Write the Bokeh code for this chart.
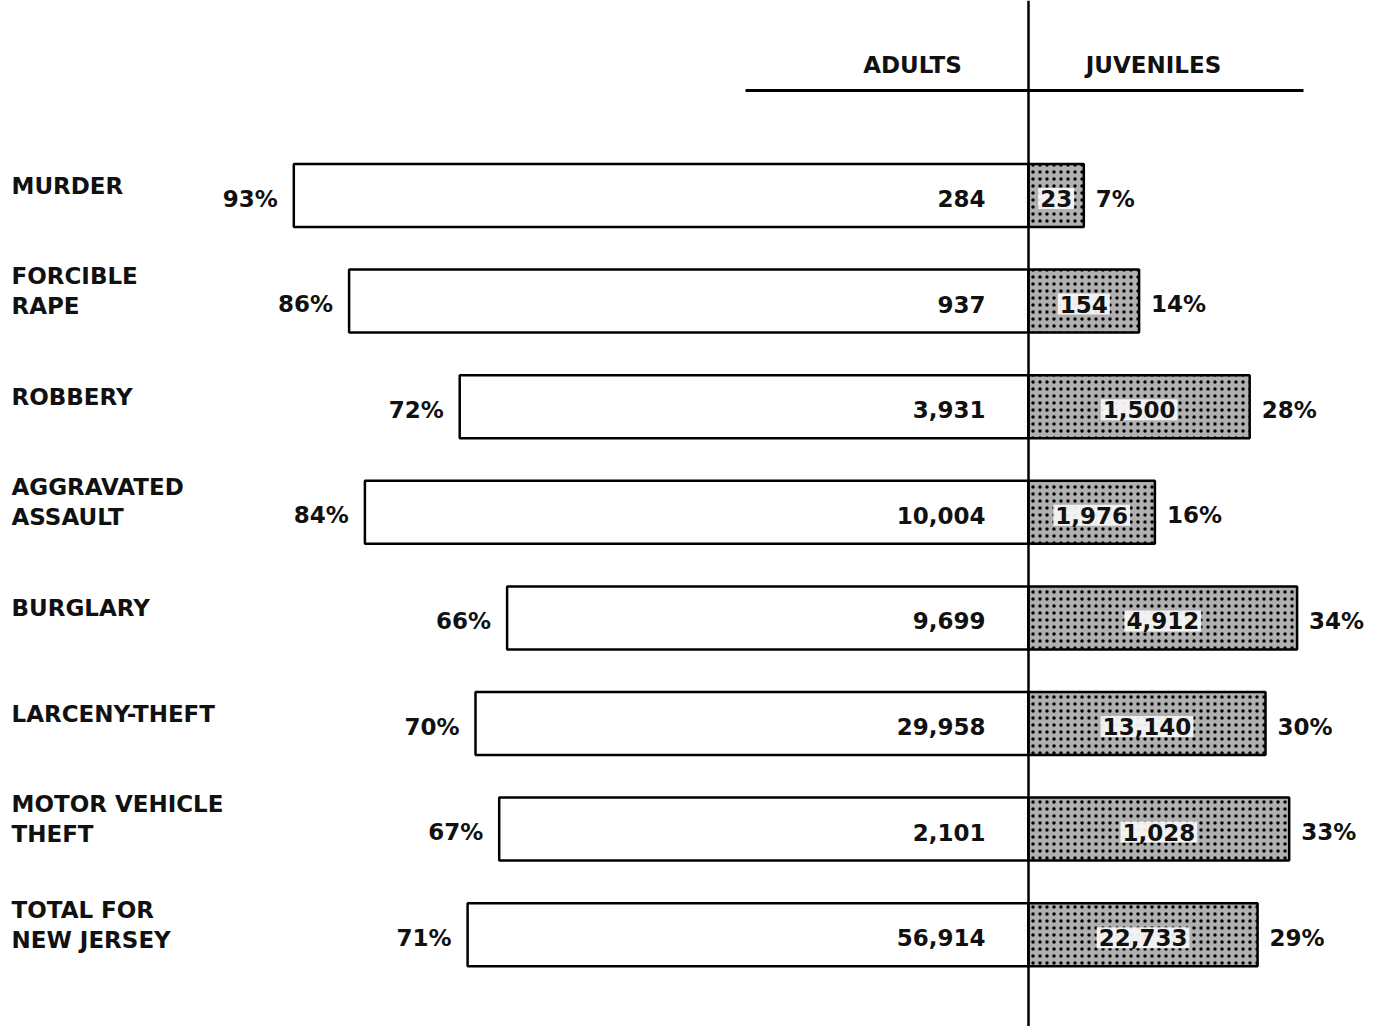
from bokeh.plotting import figure
from bokeh.models import Range1d, ColumnDataSource, Span
from bokeh.core.properties import value
from bokeh.embed import file_html
from bokeh.resources import INLINE

# ---- data ----
categories = ["MURDER", "FORCIBLE\nRAPE", "ROBBERY", "AGGRAVATED\nASSAULT", "BURGLARY",
              "LARCENY-THEFT", "MOTOR VEHICLE\nTHEFT", "TOTAL FOR\nNEW JERSEY"]
adults = [284, 937, 3931, 10004, 9699, 29958, 2101, 56914]
juveniles = [23, 154, 1500, 1976, 4912, 13140, 1028, 22733]
adult_pct = [93, 86, 72, 84, 66, 70, 67, 71]
juv_pct = [7, 14, 28, 16, 34, 30, 33, 29]
headers = ["ADULTS", "JUVENILES"]

W, H = 1385, 1026
PX_PER_PCT = 7.9
PX_PER_ROW = 105.6
center_px = 1028          # figure x pixel of the divider
first_row_px = 195        # figure y pixel of first bar centre

x_start = -center_px / PX_PER_PCT
x_end = x_start + W / PX_PER_PCT
y_top = -first_row_px / PX_PER_ROW
y_bot = y_top + H / PX_PER_ROW
dx = 1 / PX_PER_PCT
dy = 1 / PX_PER_ROW

FONT = value("DejaVu Sans")
FS = "23px"
TC = "#111111"

p = figure(width=W, height=H, output_backend="svg", toolbar_location=None,
           x_range=Range1d(x_start, x_end), y_range=Range1d(y_bot, y_top),
           min_border=0, outline_line_color=None, background_fill_color="white")
p.xaxis.visible = False
p.yaxis.visible = False
p.grid.visible = False

rows = list(range(len(categories)))
fmt = lambda v: f"{v:,}"
src = ColumnDataSource(dict(
    y=rows,
    cat=categories,
    a_left=[-v for v in adult_pct],
    a_right=[0] * len(rows),
    j_left=[0] * len(rows),
    j_right=juv_pct,
    a_val=[fmt(v) for v in adults],
    j_val=[fmt(v) for v in juveniles],
    a_pct=[f"{v}%" for v in adult_pct],
    j_pct=[f"{v}%" for v in juv_pct],
    a_pct_x=[-v - 16 * dx for v in adult_pct],
    j_pct_x=[v + 12 * dx for v in juv_pct],
    j_mid=[v / 2 for v in juv_pct],
    a_val_x=[-43 * dx] * len(rows),
    cat_x=[x_start + 11 * dx] * len(rows),
    cat_y=[r - 10 * dy for r in rows],
    pct_y=[r + 3 * dy for r in rows],
))

bh = 63 * dy
p.hbar(y="y", left="a_left", right="a_right", height=bh, source=src,
       fill_color="white", line_color="black", line_width=2.5)
p.hbar(y="y", left="j_left", right="j_right", height=bh, source=src,
       fill_color="#b0b0b0", line_color="black", line_width=2.5,
       hatch_pattern="dot", hatch_color="black", hatch_scale=7, hatch_weight=2)

# divider
p.add_layout(Span(location=0, dimension="height", line_color="black", line_width=2.5))
# header underline
hy = y_top + 90 * dy
p.segment(x0=[-283 * dx], y0=[hy], x1=[275 * dx], y1=[hy], line_color="black", line_width=3)
p.text(x=[-116 * dx, 125 * dx], y=[y_top + 64 * dy] * 2, text=headers,
       text_font=FONT, text_font_style="bold", text_font_size=FS,
       text_align="center", text_baseline="middle", text_color=TC)

p.text(x="cat_x", y="cat_y", text="cat", source=src, text_font=FONT,
       text_font_style="bold", text_font_size=FS, text_align="left",
       text_baseline="middle", text_line_height=1.15, text_color=TC)
p.text(x="a_pct_x", y="pct_y", text="a_pct", source=src, text_font=FONT,
       text_font_style="bold", text_font_size=FS, text_align="right",
       text_baseline="middle", text_color=TC)
p.text(x="j_pct_x", y="pct_y", text="j_pct", source=src, text_font=FONT,
       text_font_style="bold", text_font_size=FS, text_align="left",
       text_baseline="middle", text_color=TC)
p.text(x="a_val_x", y="pct_y", text="a_val", source=src, text_font=FONT,
       text_font_style="bold", text_font_size=FS, text_align="right",
       text_baseline="middle", text_color=TC)
p.text(x="j_mid", y="pct_y", text="j_val", source=src, text_font=FONT,
       text_font_style="bold", text_font_size=FS, text_align="center",
       text_baseline="middle", text_color=TC,
       background_fill_color="#f6f6f6", background_fill_alpha=0.95, padding=2)

open("out.html", "w").write(file_html(p, INLINE))
